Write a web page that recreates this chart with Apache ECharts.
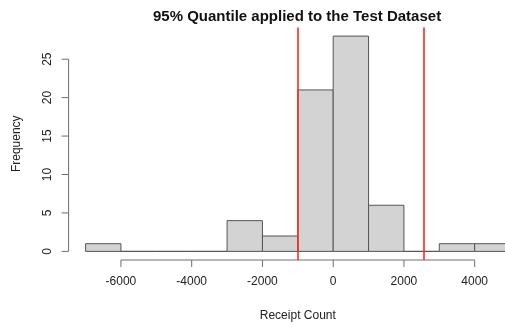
<!DOCTYPE html>
<html>
<head>
<meta charset="utf-8">
<script src="https://cdn.jsdelivr.net/npm/echarts@6/dist/echarts.min.js"></script>
<style>html,body{margin:0;padding:0;background:#fff}#c{width:505px;height:327px}</style>
</head>
<body>
<div id="c"></div>
<script>
const breaks = [-7000,-6000,-5000,-4000,-3000,-2000,-1000,0,1000,2000,3000,4000,5000];
const counts = [1,0,0,0,4,2,21,28,6,0,1,1];
const quantiles = [-990, 2550];
const xTicks = [-6000,-4000,-2000,0,2000,4000];
const yTicks = [0,5,10,15,20,25];

const FONT = '"Liberation Sans", Arial, Helvetica, sans-serif';
const xPad = (breaks[breaks.length-1]-breaks[0])*0.04;
const yMaxData = Math.max(...counts);
const yPad = yMaxData*0.04;
const xMin = breaks[0]-xPad;
const xMax = 4857; // visible right edge (plot region is cut by the window)
const yMin = -yPad, yMax = yMaxData+yPad;

const bins = counts.map((c,i)=>[breaks[i], breaks[i+1], c]);
const axisColor = '#6e6e6e';
const TICK = 7;

const chart = echarts.init(document.getElementById('c'), null, {renderer:'canvas'});
chart.setOption({
  animation:false,
  title:{text:'95% Quantile applied to the Test Dataset', left:148, top:4,
    textStyle:{fontFamily:FONT, fontSize:15, fontWeight:'bold', color:'#111'}},
  grid:{left:68.6, top:27.5, right:0, bottom:66.7, containLabel:false},
  xAxis:{type:'value', min:xMin, max:xMax, splitLine:{show:false}, axisLine:{show:false},
    axisTick:{show:false},
    axisLabel:{customValues:xTicks, margin:16, fontFamily:FONT, fontSize:12, color:'#222',
      formatter:v=>String(v)},
    name:'Receipt Count', nameLocation:'middle', nameGap:50,
    nameTextStyle:{fontFamily:FONT, fontSize:12, color:'#222', padding:[0,0,0,22]}},
  yAxis:{type:'value', min:yMin, max:yMax, splitLine:{show:false}, axisLine:{show:false},
    axisTick:{show:false},
    axisLabel:{customValues:yTicks, rotate:90, margin:15, fontFamily:FONT, fontSize:12, color:'#222',
      formatter:v=>String(v)},
    name:'Frequency', nameLocation:'middle', nameGap:46,
    nameTextStyle:{fontFamily:FONT, fontSize:12, color:'#222'}},
  series:[
    {type:'custom', data:bins, clip:false,
     renderItem:function(params, api){
       const p0 = api.coord([api.value(0), 0]);
       const p1 = api.coord([api.value(1), api.value(2)]);
       return {type:'rect', shape:{x:p0[0], y:p1[1], width:p1[0]-p0[0], height:p0[1]-p1[1]},
         style:{fill:'#d3d3d3', stroke:'#555', lineWidth:1}};
     },
     markLine:{symbol:'none', silent:true, label:{show:false},
       lineStyle:{color:'#ff2a1a', width:1.6, type:'solid'},
       data:quantiles.map(q=>({xAxis:q}))}
    },
    {type:'custom', data:[0], clip:false, silent:true,
     renderItem:function(params, api){
       const st = {stroke:axisColor, lineWidth:1};
       const a = api.coord([xTicks[0], yMin]);
       const b = api.coord([xTicks[xTicks.length-1], yMin]);
       const c = api.coord([xMin, yTicks[0]]);
       const d = api.coord([xMin, yTicks[yTicks.length-1]]);
       const kids = [
         {type:'line', shape:{x1:a[0], y1:a[1], x2:b[0], y2:b[1]}, style:st},
         {type:'line', shape:{x1:c[0], y1:c[1], x2:d[0], y2:d[1]}, style:st}
       ];
       xTicks.forEach(t=>{const p = api.coord([t, yMin]);
         kids.push({type:'line', shape:{x1:p[0], y1:p[1], x2:p[0], y2:p[1]+TICK}, style:st});});
       yTicks.forEach(t=>{const p = api.coord([xMin, t]);
         kids.push({type:'line', shape:{x1:p[0], y1:p[1], x2:p[0]-TICK, y2:p[1]}, style:st});});
       return {type:'group', children:kids};
     }}
  ]
});
</script>
</body>
</html>
